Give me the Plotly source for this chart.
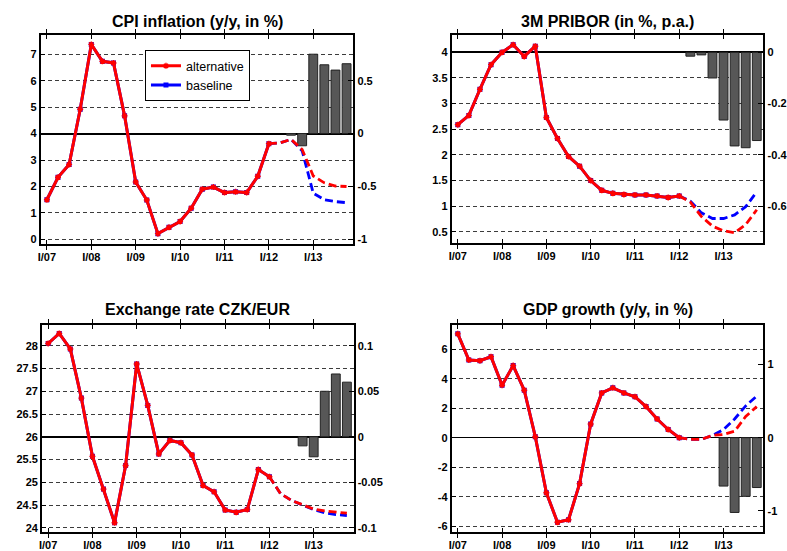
import plotly.graph_objects as go

# ---- quarterly axis: I/07 ... IV/13 ----
quarters = list(range(28))
tick_pos = [0, 4, 8, 12, 16, 20, 24]
tick_text = ["I/07", "I/08", "I/09", "I/10", "I/11", "I/12", "I/13"]
hist_idx = list(range(21))          # observed data up to I/12
fc_idx = list(range(20, 28))        # forecast from I/12 on

# ---- CPI inflation (y/y, in %) ----
cpi_hist = [1.5, 2.35, 2.83, 4.92, 7.37, 6.73, 6.67, 4.67, 2.17, 1.49, 0.22,
            0.46, 0.68, 1.18, 1.9, 1.98, 1.77, 1.8, 1.77, 2.39, 3.62]
cpi_alt_fc = [3.62, 3.65, 3.78, 3.4, 2.4, 2.14, 2.02, 2.0]
cpi_base_fc = [3.62, 3.65, 3.78, 3.35, 1.75, 1.5, 1.43, 1.39]
cpi_diff_idx = [22, 23, 24, 25, 26, 27]
cpi_diff = [-0.015, -0.115, 0.75, 0.65, 0.6, 0.66]

# ---- 3M PRIBOR (in %, p.a.) ----
pribor_hist = [2.59, 2.77, 3.28, 3.76, 4.0, 4.15, 3.92, 4.12, 2.73, 2.32, 1.97,
               1.78, 1.5, 1.31, 1.25, 1.23, 1.22, 1.22, 1.2, 1.17, 1.2]
pribor_alt_fc = [1.2, 1.08, 0.8, 0.61, 0.52, 0.48, 0.64, 0.93]
pribor_base_fc = [1.2, 1.1, 0.87, 0.76, 0.76, 0.83, 0.99, 1.28]
pribor_diff_idx = [21, 22, 23, 24, 25, 26, 27]
pribor_diff = [-0.015, -0.01, -0.1, -0.264, -0.365, -0.372, -0.344]

# ---- Exchange rate CZK/EUR ----
fx_hist = [28.05, 28.27, 27.93, 26.85, 25.57, 24.85, 24.11, 25.37, 27.6, 26.69,
           25.62, 25.92, 25.87, 25.6, 24.93, 24.79, 24.39, 24.34, 24.4, 25.28, 25.12]
fx_alt_fc = [25.12, 24.75, 24.6, 24.5, 24.41, 24.37, 24.34, 24.32]
fx_base_fc = [25.12, 24.75, 24.6, 24.5, 24.4, 24.33, 24.29, 24.27]
fx_diff_idx = [23, 24, 25, 26, 27]
fx_diff = [-0.01, -0.022, 0.05, 0.069, 0.06]

# ---- GDP growth (y/y, in %) ----
gdp_hist = [7.04, 5.27, 5.22, 5.49, 3.56, 4.89, 3.22, 0.07, -3.73, -5.73, -5.56,
            -3.11, 0.93, 3.04, 3.38, 3.04, 2.78, 2.11, 1.27, 0.56, 0.0]
gdp_alt_fc = [0.0, -0.11, -0.11, 0.16, 0.22, 0.44, 1.44, 2.11]
gdp_base_fc = [0.0, -0.11, -0.11, 0.16, 0.56, 1.27, 2.16, 2.82]
gdp_diff_idx = [24, 25, 26, 27]
gdp_diff = [-0.66, -1.02, -0.8, -0.68]

W, H = 787, 551


def px_x(a, b):
    return [a / W, b / W]


def px_y(top, bottom):
    return [1 - bottom / H, 1 - top / H]


def fmt(v):
    return "%g" % v


panels = [
    dict(title="CPI inflation (y/y, in %)", xd=px_x(38, 352), yd=px_y(36, 248),
         hist=cpi_hist, alt=cpi_alt_fc, base=cpi_base_fc,
         didx=cpi_diff_idx, diff=cpi_diff,
         lrange=[-0.17, 7.71], lticks=[0, 1, 2, 3, 4, 5, 6, 7],
         rrange=[-1.0425, 0.9275], rticks=[-1, -0.5, 0, 0.5], zw=1.6,
         title_y=22),
    dict(title="3M PRIBOR (in %, p.a.)", xd=px_x(451, 764.3), yd=px_y(36, 247.3),
         hist=pribor_hist, alt=pribor_alt_fc, base=pribor_base_fc,
         didx=pribor_diff_idx, diff=pribor_diff,
         lrange=[0.277, 4.33], lticks=[0.5, 1, 1.5, 2, 2.5, 3, 3.5, 4],
         rrange=[-0.7446, 0.066], rticks=[-0.6, -0.4, -0.2, 0], zw=1.6,
         title_y=22),
    dict(title="Exchange rate CZK/EUR", xd=px_x(39.3, 352.3), yd=px_y(330.7, 540.7),
         hist=fx_hist, alt=fx_alt_fc, base=fx_base_fc,
         didx=fx_diff_idx, diff=fx_diff,
         lrange=[23.91, 28.45], lticks=[24, 24.5, 25, 25.5, 26, 26.5, 27, 27.5, 28],
         rrange=[-0.1045, 0.1225], rticks=[-0.1, -0.05, 0, 0.05, 0.1], zw=2,
         title_y=315),
    dict(title="GDP growth (y/y, in %)", xd=px_x(451, 764.3), yd=px_y(330.7, 540.7),
         hist=gdp_hist, alt=gdp_alt_fc, base=gdp_base_fc,
         didx=gdp_diff_idx, diff=gdp_diff,
         lrange=[-6.38, 7.62], lticks=[-6, -4, -2, 0, 2, 4, 6],
         rrange=[-1.285, 1.534], rticks=[-1, 0, 1], zw=1,
         title_y=315),
]

FONT = "Liberation Sans, Arial, Helvetica, sans-serif"
tickfont = dict(family=FONT, size=11, color="black", weight="bold")
RED = "#ff0000"
BLUE = "#0000ff"

fig = go.Figure()
layout = dict(
    width=W, height=H, margin=dict(l=0, r=0, t=0, b=0),
    paper_bgcolor="white", plot_bgcolor="white",
    font=dict(family=FONT, color="black"),
    annotations=[],
    legend=dict(
        x=142.7 / W, y=1 - 51 / H, xanchor="left", yanchor="top",
        bordercolor="black", borderwidth=1, bgcolor="white",
        font=dict(family=FONT, size=12.5, color="black"),
        entrywidth=92, tracegroupgap=0,
    ),
)

for k, p in enumerate(panels, start=1):
    xs = "" if k == 1 else str(k)
    bar_ax = "" if k == 1 else str(k)      # bars: primary (right) axis
    line_ax = str(k + 4)                   # lines: overlaid (left) axis
    xref = "x" + xs
    ybar = "y" + bar_ax
    yline = "y" + line_ax

    layout["xaxis" + xs] = dict(
        domain=p["xd"], range=[-0.55, 27.6], anchor=ybar,
        tickvals=tick_pos, ticktext=tick_text, ticks="inside", ticklen=4,
        tickcolor="black", tickwidth=1, mirror="allticks",
        showline=True, linecolor="black", linewidth=2,
        showgrid=False, zeroline=False, tickfont=tickfont,
        ticklabelstandoff=2,
    )
    layout["yaxis" + bar_ax] = dict(
        domain=p["yd"], range=p["rrange"], anchor=xref, side="right",
        tickvals=p["rticks"], ticktext=[fmt(v) for v in p["rticks"]],
        ticks="inside", ticklen=5, tickcolor="black",
        showline=True, linecolor="black", linewidth=2,
        showgrid=False, zeroline=True, zerolinecolor="black",
        zerolinewidth=p["zw"], tickfont=tickfont,
    )
    layout["yaxis" + line_ax] = dict(
        range=p["lrange"], overlaying=ybar, anchor=xref, side="left",
        tickvals=p["lticks"], ticktext=[fmt(v) for v in p["lticks"]],
        ticks="inside", ticklen=4, tickcolor="black",
        showline=True, linecolor="black", linewidth=2,
        showgrid=True, gridcolor="#3c3c3c", gridwidth=1, griddash="4px,3px",
        zeroline=False, tickfont=tickfont,
    )

    layout["annotations"].append(dict(
        text="<b>" + p["title"] + "</b>", xref="paper", yref="paper",
        x=sum(p["xd"]) / 2, y=1 - p["title_y"] / H,
        xanchor="center", yanchor="middle", showarrow=False,
        font=dict(family=FONT, size=16, color="black"),
    ))

    # difference between scenarios (right axis)
    fig.add_trace(go.Bar(
        x=p["didx"], y=p["diff"], xaxis=xref, yaxis=ybar, width=0.8,
        marker=dict(color="#575757", line=dict(color="#222222", width=1)),
        showlegend=False, hoverinfo="skip",
    ))

    # baseline
    fig.add_trace(go.Scatter(
        x=hist_idx, y=p["hist"], xaxis=xref, yaxis=yline, mode="lines+markers",
        name="baseline", legendrank=2, showlegend=(k == 1),
        line=dict(color=BLUE, width=3),
        marker=dict(symbol="square", size=5, color=BLUE),
    ))
    fig.add_trace(go.Scatter(
        x=fc_idx, y=p["base"], xaxis=xref, yaxis=yline, mode="lines",
        showlegend=False, line=dict(color=BLUE, width=2.8, dash="8px,4px"),
    ))

    # alternative scenario
    fig.add_trace(go.Scatter(
        x=hist_idx, y=p["hist"], xaxis=xref, yaxis=yline, mode="lines+markers",
        name="alternative", legendrank=1, showlegend=(k == 1),
        line=dict(color=RED, width=3),
        marker=dict(symbol="asterisk-open", size=5, color=RED,
                    line=dict(color=RED, width=1.4)),
    ))
    fig.add_trace(go.Scatter(
        x=fc_idx, y=p["alt"], xaxis=xref, yaxis=yline, mode="lines",
        showlegend=False, line=dict(color=RED, width=2.8, dash="8px,4px"),
    ))

fig.update_layout(**layout)
fig.write_html("out.html")
